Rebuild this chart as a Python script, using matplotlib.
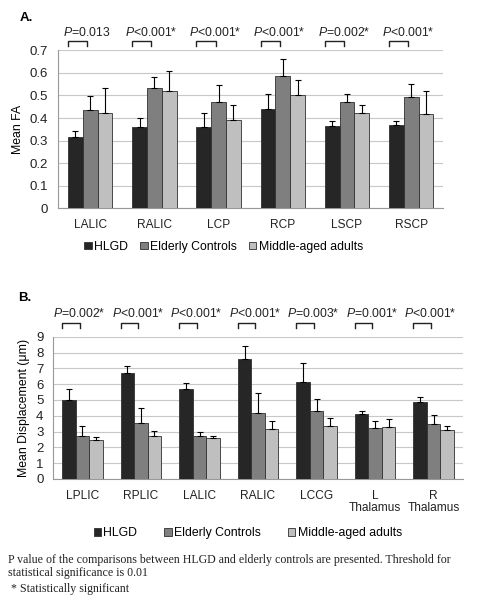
import matplotlib.pyplot as plt
import matplotlib.transforms as mtransforms
from matplotlib.patches import Patch
import numpy as np

plt.rcParams['font.family'] = 'Liberation Sans'
plt.rcParams['mathtext.fontset'] = 'custom'
plt.rcParams['mathtext.it'] = 'Liberation Sans:italic'
plt.rcParams['mathtext.rm'] = 'Liberation Sans'

groups = ["HLGD", "Elderly Controls", "Middle-aged adults"]
colors = ["#262626", "#7f7f7f", "#bfbfbf"]

# panel A - fractional anisotropy
fa_regions = ["LALIC", "RALIC", "LCP", "RCP", "LSCP", "RSCP"]
fa_hlgd = [0.316, 0.358, 0.360, 0.441, 0.364, 0.368]
fa_hlgd_err = [0.027, 0.042, 0.062, 0.064, 0.021, 0.017]
fa_eld = [0.437, 0.533, 0.471, 0.587, 0.472, 0.493]
fa_eld_err = [0.059, 0.049, 0.074, 0.075, 0.035, 0.058]
fa_mid = [0.422, 0.518, 0.391, 0.500, 0.422, 0.420]
fa_mid_err = [0.111, 0.092, 0.069, 0.067, 0.036, 0.098]
fa_p = ["=0.013", "<0.001*", "<0.001*", "<0.001*", "=0.002*", "<0.001*"]

# panel B - mean displacement
md_regions = ["LPLIC", "RPLIC", "LALIC", "RALIC", "LCCG", "L\nThalamus", "R\nThalamus"]
md_hlgd = [5.00, 6.69, 5.67, 7.57, 6.16, 4.11, 4.89]
md_hlgd_err = [0.68, 0.48, 0.43, 0.85, 1.16, 0.21, 0.32]
md_eld = [2.72, 3.52, 2.72, 4.20, 4.30, 3.20, 3.46]
md_eld_err = [0.65, 0.95, 0.28, 1.26, 0.76, 0.49, 0.59]
md_mid = [2.47, 2.72, 2.57, 3.14, 3.35, 3.27, 3.10]
md_mid_err = [0.21, 0.34, 0.17, 0.55, 0.53, 0.51, 0.25]
md_p = ["=0.002*", "<0.001*", "<0.001*", "<0.001*", "=0.003*", "=0.001*", "<0.001*"]

fig = plt.figure(figsize=(4.92, 6.0), dpi=100)


def panel(ax, regions, vals, errs, pvals, ymax, ystep, ylabel, yfmt, text_y, br_y):
    x = np.arange(len(regions))
    w = 0.23
    for i in range(3):
        ax.bar(x + (i - 1) * w, vals[i], w, color=colors[i], edgecolor="#303030",
               linewidth=0.6, zorder=3)
        ax.errorbar(x + (i - 1) * w, vals[i], yerr=[np.zeros(len(x)), errs[i]],
                    fmt="none", ecolor="black", elinewidth=0.8, capsize=2.5,
                    capthick=0.8, zorder=4)
    ax.set_xlim(-0.5, len(regions) - 0.5)
    ax.set_ylim(0, ymax)
    ticks = np.arange(0, ymax + ystep / 2, ystep)
    ax.set_yticks(ticks)
    ax.set_yticklabels([yfmt(v) for v in ticks])
    ax.set_xticks(x)
    ax.set_xticklabels(regions, fontsize=8.6, linespacing=1.0)
    ax.yaxis.grid(True, color="#c8c8c8", linewidth=0.8, zorder=0)
    ax.set_axisbelow(True)
    for s in ["top", "right"]:
        ax.spines[s].set_visible(False)
    ax.spines["left"].set_color("#999999")
    ax.spines["bottom"].set_color("#999999")
    ax.tick_params(axis="both", length=0, labelsize=9.5, colors="#222222")
    ax.tick_params(axis="x", pad=8, labelsize=8.6)
    ax.tick_params(axis="y", pad=7)
    ax.set_ylabel(ylabel, fontsize=8.8)
    trans = mtransforms.blended_transform_factory(ax.transData, ax.transAxes)
    for xi, p in zip(x, pvals):
        ax.text(xi - 0.05, text_y, r"$\mathit{P}$" + p, transform=trans, ha="center",
                va="center", fontsize=8.8, color="#222222", clip_on=False)
        x0, x1 = xi - 1.5 * w, xi - 0.2 * w
        ax.plot([x0, x0, x1, x1], [br_y - 0.035, br_y, br_y, br_y - 0.035],
                transform=trans, color="#222222", linewidth=1.0, clip_on=False)


axA = fig.add_axes([0.118, 0.653, 0.783, 0.263])
panel(axA, fa_regions, [fa_hlgd, fa_eld, fa_mid], [fa_hlgd_err, fa_eld_err, fa_mid_err],
      fa_p, 0.7, 0.1, "Mean FA", lambda v: "0" if v == 0 else "%.1f" % v, 1.115, 1.06)
axA.legend(handles=[Patch(facecolor=c, edgecolor="#303030", linewidth=0.6) for c in colors],
           labels=groups, loc="center", bbox_to_anchor=(0.43, -0.245), ncol=3,
           frameon=False, fontsize=8.8, handlelength=0.6, handleheight=0.6,
           handletextpad=0.2, columnspacing=1.0)

axB = fig.add_axes([0.108, 0.2017, 0.833, 0.237])
panel(axB, md_regions, [md_hlgd, md_eld, md_mid], [md_hlgd_err, md_eld_err, md_mid_err],
      md_p, 9, 1, "Mean Displacement (\u03bcm)", lambda v: "%d" % v, 1.165, 1.10)
axB.legend(handles=[Patch(facecolor=c, edgecolor="#303030", linewidth=0.6) for c in colors],
           labels=groups, loc="center", bbox_to_anchor=(0.475, -0.38), ncol=3,
           frameon=False, fontsize=8.8, handlelength=0.6, handleheight=0.6,
           handletextpad=0.2, columnspacing=2.2)

fig.text(20 / 492, 1 - 18 / 600, "A.", fontsize=9.5, fontweight="bold", va="center")
fig.text(18 / 492, 1 - 298 / 600, "B.", fontsize=9.5, fontweight="bold", va="center")

fig.text(8 / 492, 1 - 560 / 600,
         "P value of the comparisons between HLGD and elderly controls are presented. Threshold for",
         family="Liberation Serif", fontsize=8.6, va="center", color="#222222")
fig.text(8 / 492, 1 - 573 / 600, "statistical significance is 0.01",
         family="Liberation Serif", fontsize=8.6, va="center", color="#222222")
fig.text(8 / 492, 1 - 589 / 600, " * Statistically significant",
         family="Liberation Serif", fontsize=8.6, va="center", color="#222222")

fig.savefig("out.png", dpi=100)
